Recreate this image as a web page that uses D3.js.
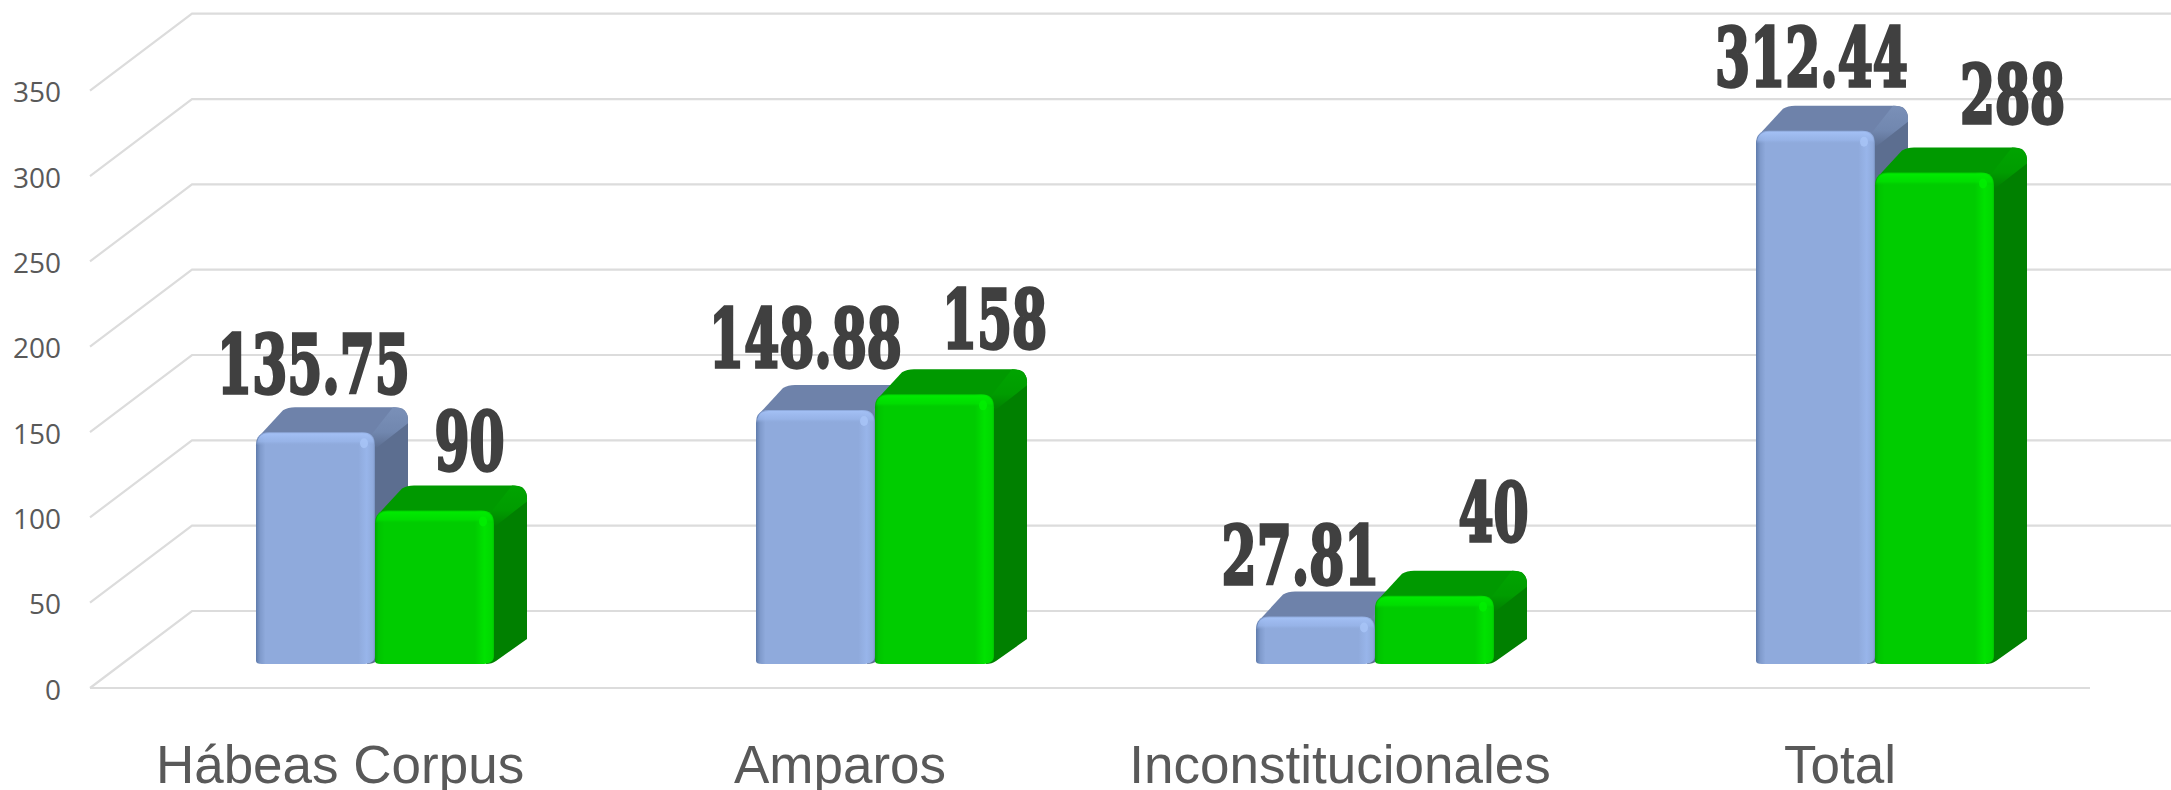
<!DOCTYPE html>
<html><head><meta charset="utf-8">
<script src="https://cdnjs.cloudflare.com/ajax/libs/d3/7.8.5/d3.min.js"></script>
<style>html,body{margin:0;padding:0;background:#fff;overflow:hidden}svg{display:block}</style>
</head><body><svg id="c" width="2171" height="790"></svg>
<script>
const categories = ["Hábeas Corpus","Amparos","Inconstitucionales","Total"];
const seriesA = [135.75,148.88,27.81,312.44];
const seriesB = [90,158,40,288];
const yTicks = [0,50,100,150,200,250,300,350];
const labelsA = ["135.75","148.88","27.81","312.44"];
const labelsB = ["90","158","40","288"];

// layout only
const W=2171,H=790, xL=90,xR=2090, yBase=688,yMax=90.7, wallDx=102,wallDy=77;
const barLift=24, depthX=33, depthY=25, barInset=[166,404], r=13;
const nudgeA=[[-2,-39],[-10,-43],[-15,-33],[-4,-45]];
const nudgeB=[[35,-40],[60,-46],[59,-55],[78,-50]];
const svg=d3.select("#c");
const x=d3.scaleBand().domain(categories).range([xL,xR]);
const inner=d3.scaleBand().domain(["a","b"]).range(barInset);
const y=d3.scaleLinear().domain([0,350]).range([yBase,yMax]);

const defs=svg.append("defs");
function hGrad(id,stops){const g=defs.append("linearGradient").attr("id",id);
  stops.forEach(s=>g.append("stop").attr("offset",s[0]).attr("stop-color",s[1]));}
function vGrad(id,stops){const g=defs.append("linearGradient").attr("id",id).attr("x1",0).attr("x2",0).attr("y1",0).attr("y2",1);
  stops.forEach(s=>g.append("stop").attr("offset",s[0]).attr("stop-color",s[1]).attr("stop-opacity",s[2]));}
const pal={
 a:{top:"#6E82AA",side:"#5C6E90",hi:"#A9C6F8"},
 b:{top:"#009900",side:"#008000",hi:"#00F000"}
};
hGrad("fa",[[0,"#5F7BAC"],[.035,"#7F9ACB"],[.08,"#8FAADC"],[.86,"#8FAADC"],[.93,"#98B5EA"],[.985,"#8FAADC"],[1,"#7690BE"]]);
hGrad("fb",[[0,"#00A800"],[.03,"#00C400"],[.08,"#00CC00"],[.84,"#00CC00"],[.92,"#00E200"],[.985,"#00D800"],[1,"#00C000"]]);
vGrad("ba",[[0,"#A3C0F5",1],[.7,"#9AB7EC",.7],[1,"#8FAADC",0]]);
vGrad("bb",[[0,"#00EC00",1],[.7,"#00E400",.7],[1,"#00CC00",0]]);
vGrad("ca",[[0,"#7A90B8",1],[.6,"#7187AF",1],[1,"#5C6E90",1]]);
vGrad("cb",[[0,"#00A400",1],[.6,"#009C00",1],[1,"#008000",1]]);

// gridlines
const grid=svg.append("g").attr("fill","none").attr("stroke","#DCDCDC").attr("stroke-width",2.2);
grid.selectAll("path").data(yTicks).join("path")
  .attr("d",t=>`M${xL},${y(t)}L${xL+wallDx},${y(t)-wallDy}L${W},${y(t)-wallDy}`);
grid.append("line").attr("x1",xL).attr("x2",xR).attr("y1",yBase).attr("y2",yBase);

// axes
const yAxis=d3.axisLeft(y).tickValues(yTicks).tickSize(0).tickPadding(0);
const gy=svg.append("g").attr("transform","translate(61,0)").call(yAxis);
gy.select(".domain").remove();
gy.selectAll("text").attr("font-family","'Open Sans'").attr("font-size",28).attr("fill","#595959").attr("dy","0.4em");

const xAxis=d3.axisBottom(x).tickSize(0).tickPadding(0);
const gx=svg.append("g").attr("transform","translate(0,783)").call(xAxis);
gx.select(".domain").remove();
gx.selectAll("text").attr("font-family","'Liberation Sans'").attr("font-size",53).attr("fill","#595959").attr("dy",0).attr("y",0);

// bars
function bar(g,cat,key,v){
  const c=pal[key], bw=inner.bandwidth(), x0=x(cat)+inner(key), x1=x0+bw;
  const yb=y(0)-barLift, yt=y(v)-barLift;
  const bx=x1+depthX, by=yb-depthY, ty=yt-depthY;
  const d=g.append("g");
  // side face
  d.append("path").attr("fill",c.side).attr("d",
    `M ${x1-4} ${yt+2} L ${bx-r} ${ty+2} Q ${bx} ${ty} ${bx} ${ty+r} L ${bx} ${by} L ${x1+2} ${yb-3} Q ${x1-2} ${yb} ${x1-8} ${yb} Z`);
  // top face
  d.append("path").attr("fill",c.top).attr("d",
    `M ${x0+3} ${yt+4} L ${x0+depthX-6} ${ty+3} Q ${x0+depthX-1} ${ty} ${x0+depthX+6} ${ty} L ${bx-r} ${ty} Q ${bx-3} ${ty} ${bx-2} ${ty+6} L ${x1-6} ${yt+8} L ${x0+6} ${yt+8} Z`);
  // corner between top and side
  d.append("path").attr("fill",`url(#c${key})`).attr("d",
    `M ${x1-4} ${yt+3} L ${bx-r-2} ${ty} Q ${bx} ${ty} ${bx} ${ty+r} L ${bx} ${ty+r+3} L ${x1+1} ${yt+16} Z`);
  // front face
  const rb=3;
  d.append("path").attr("fill",`url(#f${key})`).attr("d",
    `M ${x0} ${yb-rb} L ${x0} ${yt+r} Q ${x0} ${yt} ${x0+r} ${yt} L ${x1-r} ${yt} Q ${x1} ${yt} ${x1} ${yt+r} L ${x1} ${yb-rb-5} Q ${x1} ${yb} ${x1-r} ${yb} L ${x0+rb+3} ${yb} Q ${x0} ${yb} ${x0} ${yb-rb} Z`);
  // top bevel
  d.append("path").attr("fill",`url(#b${key})`).attr("d",
    `M ${x0+1} ${yt+13} Q ${x0+1} ${yt+1} ${x0+r} ${yt+1} L ${x1-r} ${yt+1} Q ${x1-1} ${yt+1} ${x1-1} ${yt+13} Z`);
  d.append("ellipse").attr("cx",x1-11).attr("cy",yt+11).attr("rx",4).attr("ry",5).attr("fill",c.hi).attr("opacity",.8);
}
categories.forEach((cat,i)=>{
  const g=svg.append("g");
  bar(g,cat,"a",seriesA[i]);
  bar(g,cat,"b",seriesB[i]);
});

// value labels
function label(cat,key,v,txt,n){
  const cx=x(cat)+inner(key)+inner.bandwidth()/2+n[0], by=y(v)-barLift+n[1];
  svg.append("text").attr("transform",`translate(${cx},${by}) scale(0.63,1)`)
    .attr("text-anchor","middle").attr("font-family","'DejaVu Serif'").attr("font-weight",700)
    .attr("font-size",80).attr("fill","#404040").attr("stroke","#404040").attr("stroke-width",3.4)
    .attr("paint-order","stroke").text(txt);
}
categories.forEach((cat,i)=>{
  label(cat,"a",seriesA[i],labelsA[i],nudgeA[i]);
  label(cat,"b",seriesB[i],labelsB[i],nudgeB[i]);
});
</script></body></html>
